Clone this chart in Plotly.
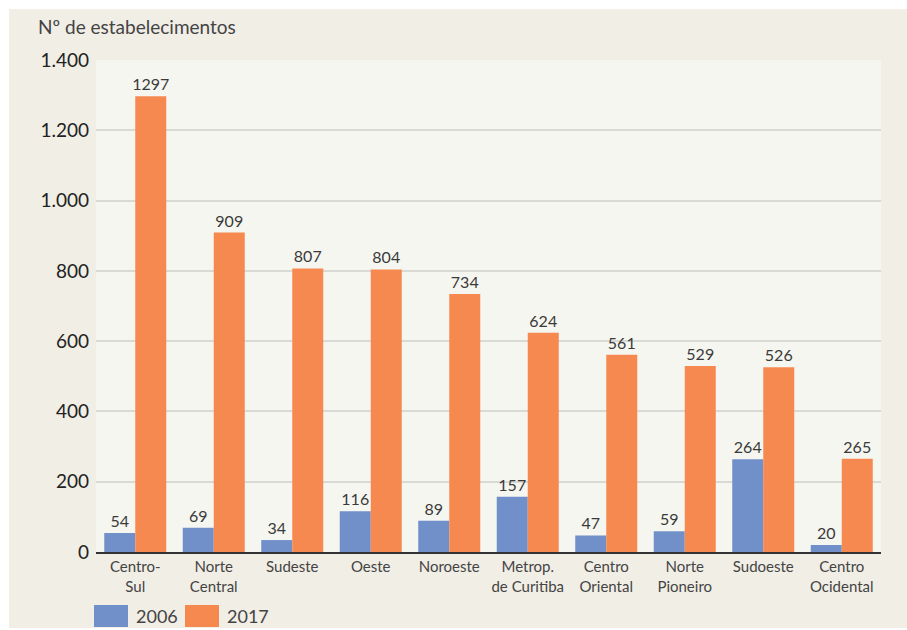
import plotly.graph_objects as go

categories = ["Centro-<br>Sul", "Norte<br>Central", "Sudeste", "Oeste", "Noroeste",
              "Metrop.<br>de Curitiba", "Centro<br>Oriental", "Norte<br>Pioneiro",
              "Sudoeste", "Centro<br>Ocidental"]
values_2006 = [54, 69, 34, 116, 89, 157, 47, 59, 264, 20]
values_2017 = [1297, 909, 807, 804, 734, 624, 561, 529, 526, 265]
series_names = ["2006", "2017"]
y_ticks = [0, 200, 400, 600, 800, 1000, 1200, 1400]

BLUE = "#7190c9"
ORANGE = "#f68950"
FONT = "Lato"

W, H = 907, 630
L, R, T, B = 96, 26, 60, 78
pw, ph = W - L - R, H - T - B


def px_x(px):
    return (px - L) / pw


def px_y(py):
    return (H - B - py) / ph


fig = go.Figure()
for name, vals, col in [(series_names[0], values_2006, BLUE), (series_names[1], values_2017, ORANGE)]:
    fig.add_trace(go.Bar(
        x=categories, y=vals, name=name, marker=dict(color=col, line=dict(width=0)),
        text=[str(v) for v in vals], texttemplate="%{text}", textposition="outside",
        textfont=dict(family=FONT, size=16, color="#3a3a3a"),
        constraintext="none",
        cliponaxis=False, showlegend=False,
    ))

fig.update_layout(
    width=W, height=H,
    margin=dict(l=L, r=R, t=T, b=B, pad=0),
    paper_bgcolor="white",
    plot_bgcolor="rgba(0,0,0,0)",
    barmode="group", bargap=0.21, bargroupgap=0,
    separators=",.",
    font=dict(family=FONT, color="#333333"),
    xaxis=dict(
        showgrid=False, showline=True, linecolor="#333333", linewidth=2,
        ticks="", tickfont=dict(family=FONT, size=15, color="#444444"),
        fixedrange=True,
    ),
    yaxis=dict(
        range=[0, 1400], tickvals=y_ticks, tickformat=",d",
        showgrid=True, gridcolor="#d9d9d5", gridwidth=1.5,
        zeroline=False, showline=False, ticks="",
        tickfont=dict(family=FONT, size=19, color="#222222"),
        ticklabelstandoff=6,
    ),
    shapes=[
        dict(type="rect", xref="paper", yref="paper", layer="below",
             x0=px_x(9), x1=px_x(907), y0=px_y(628), y1=px_y(9),
             fillcolor="#f1eee6", line=dict(width=0)),
        dict(type="rect", xref="paper", yref="paper", layer="below",
             x0=0, x1=1, y0=0, y1=1,
             fillcolor="#f6f6f0", line=dict(width=0)),
        dict(type="rect", xref="paper", yref="paper",
             x0=px_x(94), x1=px_x(128), y0=px_y(627), y1=px_y(605),
             fillcolor=BLUE, line=dict(width=0)),
        dict(type="rect", xref="paper", yref="paper",
             x0=px_x(185), x1=px_x(219), y0=px_y(627), y1=px_y(605),
             fillcolor=ORANGE, line=dict(width=0)),
    ],
    annotations=[
        dict(text="Nº de estabelecimentos", xref="paper", yref="paper",
             x=px_x(36), y=px_y(27), xanchor="left", yanchor="middle",
             showarrow=False, font=dict(family=FONT, size=19, color="#444444")),
        dict(text=series_names[0], xref="paper", yref="paper",
             x=px_x(134), y=px_y(616), xanchor="left", yanchor="middle",
             showarrow=False, font=dict(family=FONT, size=18, color="#444444")),
        dict(text=series_names[1], xref="paper", yref="paper",
             x=px_x(225), y=px_y(616), xanchor="left", yanchor="middle",
             showarrow=False, font=dict(family=FONT, size=18, color="#444444")),
    ],
)

fig.write_html("out.html")
